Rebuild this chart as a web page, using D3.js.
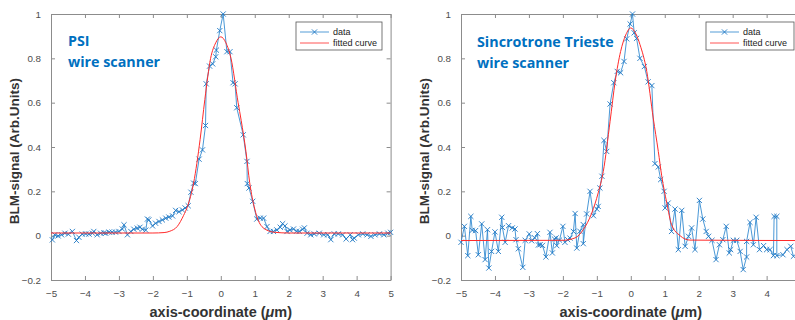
<!DOCTYPE html>
<html>
<head>
<meta charset="utf-8">
<script src="https://cdn.jsdelivr.net/npm/d3@7"></script>
<style>
  body { margin: 0; background: #fff; }
  svg { display: block; font-family: Arial, "Liberation Sans", sans-serif; }
</style>
</head>
<body>
<svg id="chart" width="795" height="320"></svg>
<script>
// PSI wire scanner: measured points
const psiX = [-4.96,-4.89,-4.79,-4.69,-4.59,-4.49,-4.37,-4.25,-4.18,-4.08,-3.98,-3.88,-3.78,-3.74,-3.64,-3.54,-3.44,-3.39,-3.29,-3.2,-3.1,-3.0,-2.9,-2.85,-2.75,-2.65,-2.56,-2.46,-2.38,-2.31,-2.21,-2.16,-2.12,-2.01,-1.92,-1.82,-1.72,-1.62,-1.53,-1.42,-1.33,-1.23,-1.13,-1.05,-0.96,-0.88,-0.8,-0.75,-0.64,-0.54,-0.45,-0.43,-0.33,-0.24,-0.15,-0.13,-0.03,0.07,0.18,0.27,0.36,0.42,0.47,0.66,0.77,0.78,0.83,0.94,1.06,1.16,1.26,1.36,1.45,1.55,1.65,1.75,1.82,1.89,1.95,2.04,2.14,2.23,2.31,2.41,2.46,2.54,2.65,2.75,2.9,3.03,3.15,3.24,3.34,3.46,3.59,3.69,3.81,3.88,3.93,4.05,4.18,4.31,4.42,4.54,4.67,4.8,4.92,5.0];
const psiY = [-0.019,0.004,-0.001,0.004,0.011,0.007,0.019,-0.022,-0.007,0.007,0.008,0.007,0.011,0.019,0.004,0.011,0.013,0.011,0.016,0.016,0.016,0.019,0.03,0.049,0.004,0.019,0.029,0.034,0.038,0.029,0.025,0.075,0.071,0.044,0.056,0.064,0.071,0.079,0.084,0.089,0.114,0.108,0.116,0.125,0.135,0.196,0.237,0.235,0.345,0.387,0.497,0.685,0.765,0.775,0.807,0.837,0.925,1.0,0.83,0.83,0.69,0.685,0.577,0.455,0.335,0.235,0.215,0.155,0.075,0.079,0.079,0.041,0.019,0.019,0.026,0.038,0.054,0.044,0.019,0.026,0.03,0.02,0.019,0.029,0.035,0.011,0.004,0.008,0.011,0.004,0.004,-0.018,0.008,0.008,0.004,-0.015,0.004,-0.018,-0.011,0.004,0.008,0.004,-0.003,0.004,0.008,0.004,0.011,0.015];
// PSI fitted curve
const psiFitX = [-5,-2,-1.67,-1.5,-1.28,-1.1,-0.98,-0.8,-0.61,-0.47,-0.3,-0.15,0,0.15,0.3,0.51,0.6,0.74,0.85,1.0,1.1,1.33,1.6,2,5];
const psiFitY = [0.012,0.012,0.014,0.02,0.042,0.09,0.132,0.238,0.433,0.614,0.8,0.87,0.897,0.87,0.8,0.6,0.52,0.38,0.24,0.12,0.07,0.027,0.015,0.012,0.012];

// Sincrotrone Trieste wire scanner: measured points
const tsX = [-5.0,-4.9,-4.8,-4.71,-4.67,-4.57,-4.49,-4.39,-4.29,-4.22,-4.18,-4.1,-4.0,-3.9,-3.8,-3.78,-3.7,-3.6,-3.49,-3.41,-3.38,-3.31,-3.18,-3.11,-2.99,-2.92,-2.83,-2.75,-2.72,-2.67,-2.6,-2.5,-2.38,-2.31,-2.25,-2.2,-2.18,-2.1,-2.0,-1.94,-1.86,-1.79,-1.69,-1.64,-1.59,-1.5,-1.4,-1.4,-1.3,-1.2,-1.1,-1.0,-0.96,-0.91,-0.85,-0.79,-0.71,-0.61,-0.5,-0.4,-0.3,-0.2,-0.12,-0.02,0.05,0.1,0.17,0.27,0.4,0.51,0.62,0.71,0.81,0.88,0.98,1.01,1.1,1.2,1.3,1.4,1.5,1.6,1.7,1.79,1.89,2.02,2.12,2.22,2.29,2.39,2.51,2.61,2.71,2.81,2.9,2.94,3.02,3.12,3.22,3.31,3.41,3.41,3.51,3.61,3.69,3.79,3.91,4.0,4.1,4.2,4.22,4.3,4.3,4.48,4.6,4.71,4.79];
const tsY = [-0.03,0.042,-0.09,0.087,0.024,0.023,-0.086,0.053,-0.108,0.027,-0.146,-0.071,0.017,-0.071,0.083,0.037,-0.03,0.045,0.035,0.03,-0.018,-0.059,-0.143,-0.021,0.008,-0.023,-0.01,0.009,-0.042,-0.041,-0.044,-0.096,0.015,-0.078,-0.015,-0.01,-0.045,-0.02,0.042,-0.03,-0.018,-0.011,0.019,0.1,-0.056,0.02,0.05,-0.036,0.098,0.2,0.09,0.12,0.132,0.215,0.268,0.43,0.38,0.594,0.69,0.741,0.735,0.786,0.888,0.955,1.0,0.915,0.89,0.8,0.763,0.694,0.677,0.325,0.31,0.253,0.2,0.125,0.147,0.019,0.12,-0.063,0.114,-0.048,-0.003,0.035,-0.063,0.159,0.075,0.019,-0.003,-0.021,-0.108,-0.041,-0.018,0.042,-0.078,-0.063,-0.021,-0.021,-0.071,-0.153,-0.096,-0.026,0.06,-0.041,0.083,-0.063,-0.045,-0.063,-0.063,-0.09,0.087,0.087,-0.09,-0.086,-0.063,-0.048,-0.093];
// Trieste fitted curve
const tsFitX = [-5,-2.0,-1.64,-1.4,-1.15,-0.96,-0.81,-0.61,-0.46,-0.3,-0.15,0,0.15,0.27,0.47,0.66,0.81,0.91,1.06,1.2,1.45,1.74,5];
const tsFitY = [-0.022,-0.021,-0.01,0.027,0.102,0.193,0.29,0.516,0.696,0.831,0.905,0.937,0.91,0.862,0.741,0.531,0.38,0.27,0.147,0.05,0.0,-0.02,-0.022];

const xTicks = [-5,-4,-3,-2,-1,0,1,2,3,4,5];
const yTicks = [-0.2,0,0.2,0.4,0.6,0.8,1];
const legendLabels = ["data", "fitted curve"];

const W = 795;
const dataColor = "#2a86cf";
const fitColor = "#ff2a2a";
const boxColor = "#8c8c8c";
const xMark = "M-2.6,-2.6L2.6,2.6M-2.6,2.6L2.6,-2.6";

const svg = d3.select("#chart");

function drawPanel(p) {
  const x = d3.scaleLinear([-5, 5], [p.left, p.left + 339.6]);
  const y = d3.scaleLinear([-0.2, 1], [280, 14]);
  const g = svg.append("g");

  // box + inward ticks on all four sides
  const tk = 4;
  g.append("g").attr("transform", "translate(0,280)")
    .call(d3.axisBottom(x).tickValues(xTicks).tickSizeInner(-tk).tickSizeOuter(0).tickPadding(10))
    .call(a => a.select(".domain").attr("stroke", boxColor))
    .call(a => a.selectAll(".tick line").attr("stroke", boxColor))
    .call(a => a.selectAll("text").attr("fill", "#4d4d4d").attr("font-size", 9.8))
    // the figure is cropped at the right edge: drop labels that fall outside it
    .call(a => a.selectAll(".tick").filter(d => x(d) > W - 4).select("text").remove());
  g.append("g").attr("transform", "translate(0,14)")
    .call(d3.axisTop(x).tickValues(xTicks).tickSizeInner(-tk).tickSizeOuter(0).tickFormat(""))
    .call(a => a.select(".domain").attr("stroke", boxColor))
    .call(a => a.selectAll(".tick line").attr("stroke", boxColor));
  g.append("g").attr("transform", `translate(${p.left},0)`)
    .call(d3.axisLeft(y).tickValues(yTicks).tickSizeInner(-tk).tickSizeOuter(0).tickPadding(10).tickFormat(d3.format("~g")))
    .call(a => a.select(".domain").attr("stroke", boxColor))
    .call(a => a.selectAll(".tick line").attr("stroke", boxColor))
    .call(a => a.selectAll("text").attr("fill", "#4d4d4d").attr("font-size", 9.8));
  g.append("g").attr("transform", `translate(${x(5)},0)`)
    .call(d3.axisRight(y).tickValues(yTicks).tickSizeInner(-tk).tickSizeOuter(0).tickFormat(""))
    .call(a => a.select(".domain").attr("stroke", boxColor))
    .call(a => a.selectAll(".tick line").attr("stroke", boxColor));

  // data line with x markers
  const pts = d3.range(p.dx.length).map(i => [p.dx[i], p.dy[i]]);
  g.append("path")
    .attr("d", d3.line().x(d => x(d[0])).y(d => y(d[1]))(pts))
    .attr("fill", "none").attr("stroke", dataColor).attr("stroke-width", 1).attr("opacity", 0.85);
  g.append("g").selectAll("path").data(pts).join("path")
    .attr("transform", d => `translate(${x(d[0])},${y(d[1])})`)
    .attr("d", xMark).attr("stroke", "#1f78c4").attr("stroke-width", 0.9).attr("fill", "none");

  // fitted curve
  const fit = d3.range(p.fx.length).map(i => [p.fx[i], p.fy[i]]);
  g.append("path")
    .attr("d", d3.line().curve(d3.curveMonotoneX).x(d => x(d[0])).y(d => y(d[1]))(fit))
    .attr("fill", "none").attr("stroke", fitColor).attr("stroke-width", 1);

  // axis titles
  g.append("text")
    .attr("x", x(0)).attr("y", 317).attr("text-anchor", "middle")
    .attr("font-size", 14.5).attr("font-weight", "bold").attr("fill", "#333")
    .call(t => {
      t.append("tspan").text("axis-coordinate (");
      t.append("tspan").attr("font-style", "italic").text("\u03bc");
      t.append("tspan").text("m)");
    });
  g.append("text")
    .attr("transform", `translate(${p.left - 32},151) rotate(-90)`)
    .attr("text-anchor", "middle")
    .attr("font-size", 13.5).attr("font-weight", "bold").attr("fill", "#333")
    .text("BLM-signal (Arb.Units)");

  // blue annotation
  g.selectAll(".note").data(p.note).join("text")
    .attr("x", p.left + p.noteDx).attr("y", (d, i) => p.noteY + i * 20.5)
    .attr("font-family", "'Open Sans', sans-serif").attr("font-weight", "bold")
    .attr("font-size", 14.3).attr("fill", "#0070c0")
    .text(d => d);

  // legend
  const lg = g.append("g").attr("transform", `translate(${p.legX},22)`);
  lg.append("rect").attr("width", p.legW).attr("height", 28)
    .attr("fill", "#fff").attr("stroke", "#555").attr("stroke-width", 0.8);
  legendLabels.forEach((lab, i) => {
    const ly = 10 + i * 11;
    lg.append("line").attr("x1", 4).attr("x2", 33).attr("y1", ly).attr("y2", ly)
      .attr("stroke", i ? fitColor : dataColor).attr("stroke-width", 1).attr("opacity", 0.8);
    if (!i) lg.append("path").attr("transform", `translate(18.5,${ly})`).attr("d", xMark)
      .attr("stroke", "#1f78c4").attr("stroke-width", 0.9);
    lg.append("text").attr("x", 37).attr("y", ly).attr("dy", "0.35em")
      .attr("font-size", 9).attr("fill", "#222").text(lab);
  });
}

drawPanel({left: 51, dx: psiX, dy: psiY, fx: psiFitX, fy: psiFitY,
  note: ["PSI", "wire scanner"], noteDx: 17, noteY: 46, legX: 296, legW: 86});
drawPanel({left: 461, dx: tsX, dy: tsY, fx: tsFitX, fy: tsFitY,
  note: ["Sincrotrone Trieste", "wire scanner"], noteDx: 16, noteY: 47, legX: 706, legW: 88});
</script>
</body>
</html>
